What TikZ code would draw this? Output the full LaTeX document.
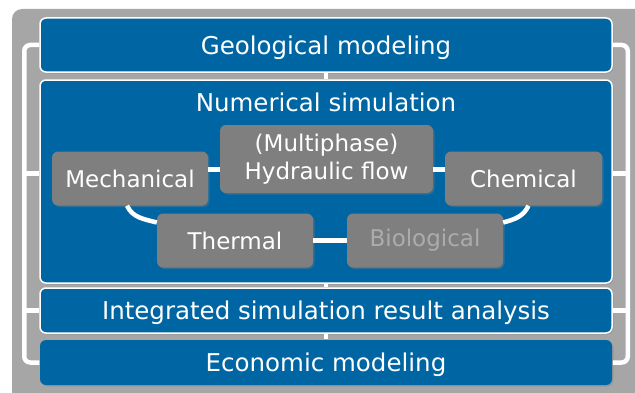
\documentclass[tikz,border=0pt]{standalone}
\usepackage{fontspec}
\setmainfont{DejaVu Sans}
\usetikzlibrary{shadows}
\definecolor{bgGray}{RGB}{166,166,166}
\definecolor{boxBlue}{RGB}{0,102,163}
\definecolor{boxGray}{RGB}{127,127,127}
\definecolor{fadeText}{RGB}{172,172,172}
\begin{document}
\begin{tikzpicture}[x=1pt, y=1pt, line join=round,
  layer/.style={draw=white, line width=1.5pt, fill=boxBlue, rounded corners=6pt,
    minimum width=572pt, inner sep=0pt, text=white, text depth=0pt, font=\fontsize{24.5}{28}\selectfont,
    drop shadow={shadow xshift=1.5pt, shadow yshift=-1.5pt, opacity=0.35}},
  part/.style={fill=boxGray, rounded corners=6pt, inner sep=0pt, align=center,
    minimum width=156pt, minimum height=54pt, text=white, font=\fontsize{23}{28}\selectfont,
    drop shadow={shadow xshift=1.5pt, shadow yshift=-1.5pt, opacity=0.35}},
  wire/.style={draw=white, line width=4.5pt, line cap=butt, rounded corners=6pt}]
  \useasboundingbox (0,0) rectangle (635,392);
  % background
  \fill[bgGray, rounded corners=10pt] (12,-12) rectangle (650,383);
  % layers
  \node[layer, minimum height=54pt] (geo) at (326,347) {Geological modeling};
  \node[layer, minimum height=203pt] (num) at (326,210.5) {};
  \node[text=white, font=\fontsize{24.5}{28}\selectfont] (numtitle) at (326,290) {Numerical simulation};
  \node[layer, minimum height=45pt] (ana) at (326,81.5) {Integrated simulation result analysis};
  \node[layer, draw=none, minimum height=45pt] (eco) at (326,29.5) {Economic modeling};
  % processes
  \node[part] (mech) at (130,213.5) {Mechanical};
  \node[part, minimum width=213pt, minimum height=68pt] (hyd) at (326.5,233) {(Multiphase)\\Hydraulic flow};
  \node[part, minimum width=157pt] (chem) at (523.5,213.5) {Chemical};
  \node[part] (therm) at (235,151.5) {Thermal};
  \node[part, text=fadeText] (bio) at (425,151.5) {Biological};
  % couplings
  \draw[wire] ([yshift=9]mech.east) -- ([yshift=9]mech.east -| hyd.west);
  \draw[wire] ([yshift=9]chem.west -| hyd.east) -- ([yshift=9]chem.west);
  \draw[wire] (therm.east) -- (bio.west);
  \draw[wire, rounded corners=0pt] ([xshift=-3]mech.south) to[out=-65, in=165] ([yshift=18]therm.west);
  \draw[wire, rounded corners=0pt] ([yshift=18]bio.east) to[out=15, in=-115] ([xshift=5]chem.south);
  % links between layers
  \draw[wire, line width=3.5pt] (geo.south) -- (num.north);
  \draw[wire, line width=3.5pt] (num.south) -- (ana.north);
  \draw[wire, line width=3.5pt] (ana.south) -- (eco.north);
  % brackets
  \draw[wire] (geo.west) -- ++(-15,0) |- (eco.west);
  \draw[wire] (geo.east) -- ++(15,0) |- (eco.east);
  \draw[wire, rounded corners=0pt] ([yshift=5]num.west |- mech) -- ++(-15,0);
  \draw[wire, rounded corners=0pt] (ana.west) -- ++(-15,0);
  \draw[wire, rounded corners=0pt] ([yshift=5]num.east |- chem) -- ++(15,0);
  \draw[wire, rounded corners=0pt] (ana.east) -- ++(15,0);
\end{tikzpicture}
\end{document}
